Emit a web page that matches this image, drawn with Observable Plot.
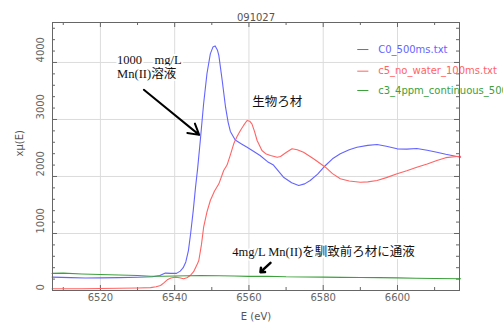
<!DOCTYPE html>
<html>
<head>
<meta charset="utf-8">
<script src="https://cdn.jsdelivr.net/npm/d3@7"></script>
<script src="https://cdn.jsdelivr.net/npm/@observablehq/plot@0.6"></script>
<style>
  html, body { margin: 0; padding: 0; background: white; overflow: hidden; }
</style>
</head>
<body>
<div id="chart"></div>
<script>
// ---- data ----
const blueE = [6507,6512,6516,6520,6525,6530,6534,6536,6537.5,6539,6540.5,6541.5,6542.3,6543,6543.7,6544.3,6545,6545.6,6546.2,6546.9,6547.8,6548.7,6549.6,6550.3,6550.9,6551.5,6551.9,6552.8,6553.7,6554.4,6555,6556.3,6558,6559.5,6561,6563,6565,6566.6,6569.3,6571.5,6573.4,6575,6576.5,6578.5,6580.6,6582.5,6584.6,6587,6589.1,6592,6594.5,6597,6599.9,6602.5,6605.2,6608,6610.6,6613,6616,6617];
const blueMu = [235,225,218,222,225,232,240,262,305,300,300,340,400,500,700,1000,1400,1800,2150,2630,3280,3806,4150,4270,4290,4220,4120,3684,3215,2950,2790,2640,2570,2514,2450,2368,2260,2200,1987,1890,1842,1870,1929,2040,2193,2310,2398,2470,2514,2545,2561,2530,2485,2480,2490,2460,2426,2390,2350,2340];

const redE = [6507,6515,6520,6525,6530,6533.5,6535,6536.2,6537,6538,6539,6540.2,6541.3,6542.4,6543.3,6544.2,6545.1,6546,6546.5,6547.2,6547.8,6548.7,6549.6,6550.7,6551.9,6553.2,6554.1,6555,6555.9,6556.8,6557.7,6558.6,6559.5,6560.2,6560.8,6561.5,6562.2,6563.5,6564.5,6565.8,6567.6,6568.5,6570,6571.6,6573,6574.7,6577.4,6580.6,6582.5,6584.6,6587,6590,6592,6594.5,6597,6599.9,6602.5,6605.2,6608,6610.6,6613,6616,6617];
const redMu = [30,30,35,40,45,50,65,88,130,187,220,234,225,205,225,263,330,450,526,800,1110,1380,1579,1740,1871,2105,2200,2380,2573,2700,2806,2900,2982,2970,2924,2790,2631,2456,2400,2368,2338,2350,2420,2485,2470,2426,2310,2163,2050,1959,1920,1900,1905,1929,1980,2047,2100,2163,2220,2280,2330,2350,2355];

const greenE = [6507,6510,6515,6520,6525,6530,6533.5,6537,6540,6547,6552,6556,6560,6565,6570,6575,6580,6585,6590,6595,6600,6605,6610,6617];
const greenMu = [300,305,290,280,272,262,251,250,255,262,258,255,248,250,240,238,234,230,228,226,222,215,210,205];

const seriesNames = ["C0_500ms.txt", "c5_no_water_100ms.txt", "c3_4ppm_continuous_500ms.txt"];
const seriesColors = ["#6464ff", "#ff6464", "#3ca03c"];

const xMajorTicks = [6520, 6540, 6560, 6580, 6600];
const xMinorTicks = [6510, 6530, 6550, 6570, 6590, 6610];
const yMajorTicks = [0, 1000, 2000, 3000, 4000];
const yMinorTicks = [200,400,600,800,1200,1400,1600,1800,2200,2400,2600,2800,3200,3400,3600,3800,4200,4400,4600];

const titleText = "091027";
const xLabel = "E (eV)";
const yLabel = "xμ(E)";

// annotations (data coordinates)
const serifTexts = ["1000\u00a0\u00a0\u00a0\u00a0mg/L", "Mn(II)溶液", "4mg/L Mn(II)を馴致前ろ材に通液"];
const serifE = [6524.5, 6524.5, 6555.5];
const serifMu = [4044, 3790, 672];
const sansTexts = ["生物ろ材"];
const sansE = [6560.9];
const sansMu = [3315];
const arrowFromE = [6531.7, 6565.8];
const arrowFromMu = [3520, 486];
const arrowToE = [6546.6, 6563.1];
const arrowToMu = [2730, 321];

// legend positions (data coordinates)
const legendLineE = [6589.3, 6592.3];
const legendTextE = 6594.8;
const legendMu = [4227, 3847, 3508];

// ---- build ----
const toRows = (E, M) => E.map((e, i) => ({e, mu: M[i]}));
const rows = [toRows(blueE, blueMu), toRows(redE, redMu), toRows(greenE, greenMu)];

const W = 503, H = 329;
const mL = 52, mR = 44, mT = 22, mB = 39;
const frameW = W - mL - mR, frameH = H - mT - mB;
const tickCol = "#666";
const serifFont = "'Liberation Serif', 'Noto Sans CJK JP', serif";
const idx = a => a.map((_, i) => i);

const marks = [
  Plot.gridX(xMajorTicks, {stroke: "#dcdcdc", strokeOpacity: 1}),
  Plot.gridY(yMajorTicks, {stroke: "#dcdcdc", strokeOpacity: 1}),
  // inward ticks on four sides
  Plot.tickX(xMajorTicks, {x: d => d, stroke: tickCol, insetTop: frameH - 5}),
  Plot.tickX(xMinorTicks, {x: d => d, stroke: tickCol, insetTop: frameH - 3}),
  Plot.tickX(xMajorTicks, {x: d => d, stroke: tickCol, insetBottom: frameH - 5}),
  Plot.tickX(xMinorTicks, {x: d => d, stroke: tickCol, insetBottom: frameH - 3}),
  Plot.tickY(yMajorTicks, {y: d => d, stroke: tickCol, insetRight: frameW - 5}),
  Plot.tickY(yMinorTicks, {y: d => d, stroke: tickCol, insetRight: frameW - 3}),
  Plot.tickY(yMajorTicks, {y: d => d, stroke: tickCol, insetLeft: frameW - 5}),
  Plot.tickY(yMinorTicks, {y: d => d, stroke: tickCol, insetLeft: frameW - 3}),
  // tick labels
  Plot.text(xMajorTicks, {x: d => d, text: d => String(d), frameAnchor: "bottom", dy: 10, fill: tickCol, fontSize: 10}),
  Plot.text(yMajorTicks, {y: d => d, text: d => String(d), frameAnchor: "left", dx: -11.5, rotate: -90, fill: tickCol, fontSize: 10}),
  // axis labels + title
  Plot.text([xLabel], {text: d => d, frameAnchor: "bottom", dy: 29, fill: "#555", fontSize: 10}),
  Plot.text([yLabel], {text: d => d, frameAnchor: "left", dx: -33, rotate: -90, fill: "#555", fontSize: 10}),
  Plot.text([titleText], {text: d => d, frameAnchor: "top", dy: -9, fill: "#555", fontSize: 10}),
  // series
  ...rows.map((r, i) => Plot.line(r, {x: "e", y: "mu", stroke: seriesColors[i], strokeWidth: 1.1})),
  // legend
  ...seriesNames.map((n, i) => Plot.ruleY([legendMu[i]], {x1: legendLineE[0], x2: legendLineE[1], stroke: seriesColors[i]})),
  Plot.text(seriesNames, {x: () => legendTextE, y: (d, i) => legendMu[i], text: d => d, fill: (d, i) => seriesColors[i], textAnchor: "start", fontSize: 10}),
  // annotations (white halo behind)
  Plot.text(idx(serifTexts), {
    x: i => serifE[i], y: i => serifMu[i], text: i => serifTexts[i],
    textAnchor: "start", fontSize: 12.5, fontFamily: serifFont,
    fill: "#111", stroke: "white", strokeWidth: 4
  }),
  Plot.text(idx(sansTexts), {
    x: i => sansE[i], y: i => sansMu[i], text: i => sansTexts[i],
    textAnchor: "start", fontSize: 12.5,
    fontFamily: "'Noto Sans CJK JP', sans-serif",
    fill: "#111", stroke: "white", strokeWidth: 4
  }),
  Plot.arrow([0], {x1: i => arrowFromE[i], y1: i => arrowFromMu[i], x2: i => arrowToE[i], y2: i => arrowToMu[i], stroke: "black", strokeWidth: 2, headLength: 9}),
  Plot.arrow([1], {x1: i => arrowFromE[i], y1: i => arrowFromMu[i], x2: i => arrowToE[i], y2: i => arrowToMu[i], stroke: "black", strokeWidth: 2.5, headLength: 8, headAngle: 80}),
  Plot.frame({stroke: "#666"})
];

const chart = Plot.plot({
  width: W, height: H,
  marginLeft: mL, marginRight: mR, marginTop: mT, marginBottom: mB,
  x: {domain: [6507.1, 6616.7], axis: null},
  y: {domain: [0, 4701], axis: null},
  style: {fontFamily: "'DejaVu Sans', sans-serif", fontSize: "10px", background: "white", overflow: "hidden"},
  marks
});
document.getElementById("chart").appendChild(chart);
</script>
</body>
</html>
